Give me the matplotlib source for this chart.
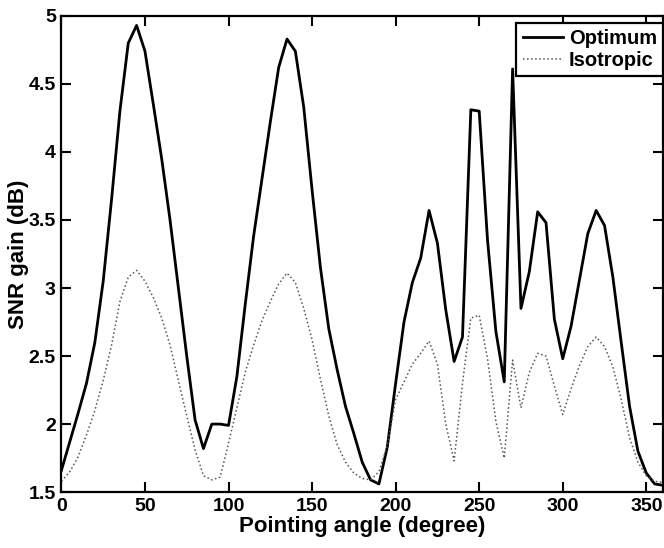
#!/usr/bin/env python3

import numpy as np
import matplotlib
matplotlib.use('Agg')
import matplotlib.pyplot as plt

plt.rcParams['font.family'] = ['Liberation Sans', 'DejaVu Sans']
plt.rcParams['font.weight'] = 'bold'

# Pointing angles (degree), every 5 degrees
angle = np.arange(0, 361, 5)

optimum = [1.66, 1.87, 2.08, 2.30, 2.60, 3.05, 3.65, 4.30, 4.80, 4.93,
           4.74, 4.35, 3.95, 3.50, 3.00, 2.50, 2.03, 1.82, 2.00, 2.00,
           1.99, 2.35, 2.88, 3.38, 3.80, 4.22, 4.62, 4.83, 4.74, 4.33,
           3.72, 3.15, 2.70, 2.40, 2.13, 1.93, 1.72, 1.59, 1.56, 1.83,
           2.30, 2.75, 3.04, 3.22, 3.57, 3.33, 2.84, 2.46, 2.64, 4.31,
           4.30, 3.35, 2.68, 2.31, 4.61, 2.85, 3.12, 3.56, 3.48, 2.77,
           2.48, 2.72, 3.06, 3.40, 3.57, 3.46, 3.08, 2.60, 2.13, 1.80,
           1.64, 1.56, 1.55]

isotropic = [1.58, 1.65, 1.76, 1.92, 2.10, 2.32, 2.58, 2.90, 3.08, 3.13,
             3.05, 2.93, 2.78, 2.58, 2.32, 2.06, 1.81, 1.62, 1.59, 1.61,
             1.86, 2.12, 2.38, 2.58, 2.76, 2.90, 3.03, 3.11, 3.04, 2.85,
             2.62, 2.33, 2.06, 1.85, 1.72, 1.64, 1.60, 1.59, 1.65, 1.84,
             2.18, 2.31, 2.44, 2.52, 2.61, 2.44, 2.00, 1.73, 2.30, 2.78,
             2.80, 2.48, 2.02, 1.75, 2.47, 2.12, 2.38, 2.52, 2.50, 2.28,
             2.07, 2.26, 2.43, 2.57, 2.64, 2.57, 2.42, 2.18, 1.90, 1.72,
             1.62, 1.58, 1.57]

xticks = [0, 50, 100, 150, 200, 250, 300, 350]
yticks = [1.5, 2, 2.5, 3, 3.5, 4, 4.5, 5]
ytick_labels = ['1.5', '2', '2.5', '3', '3.5', '4', '4.5', '5']

fig = plt.figure(figsize=(6.64, 5.48), dpi=100)
ax = fig.add_axes([0.0925, 0.102, 0.906, 0.869])

ax.plot(angle, optimum, color='black', linewidth=2.0, label='Optimum')
ax.plot(angle, isotropic, color='#555555', linewidth=1.1, linestyle=':', label='Isotropic')

ax.set_xlim(0, 360)
ax.set_ylim(1.5, 5)
ax.set_xticks(xticks)
ax.set_yticks(yticks)
ax.set_yticklabels(ytick_labels)
ax.tick_params(direction='in', top=True, right=True, length=7, width=1.5,
               labelsize=14)
ax.tick_params(axis='y', pad=4)
ax.tick_params(axis='x', pad=4)
for spine in ax.spines.values():
    spine.set_linewidth(1.6)

ax.set_xlabel('Pointing angle (degree)', fontsize=16, fontweight='bold', labelpad=1)
ax.set_ylabel('SNR gain (dB)', fontsize=16, fontweight='bold', labelpad=0)

leg = ax.legend(loc='upper right', bbox_to_anchor=(1.0, 0.985), fontsize=14.5,
                fancybox=False, framealpha=1, edgecolor='black', borderaxespad=0,
                handlelength=2.0, handletextpad=0.3, borderpad=0.3, labelspacing=0.15)
leg.get_frame().set_linewidth(1.6)

fig.savefig('out.png', dpi=100)
